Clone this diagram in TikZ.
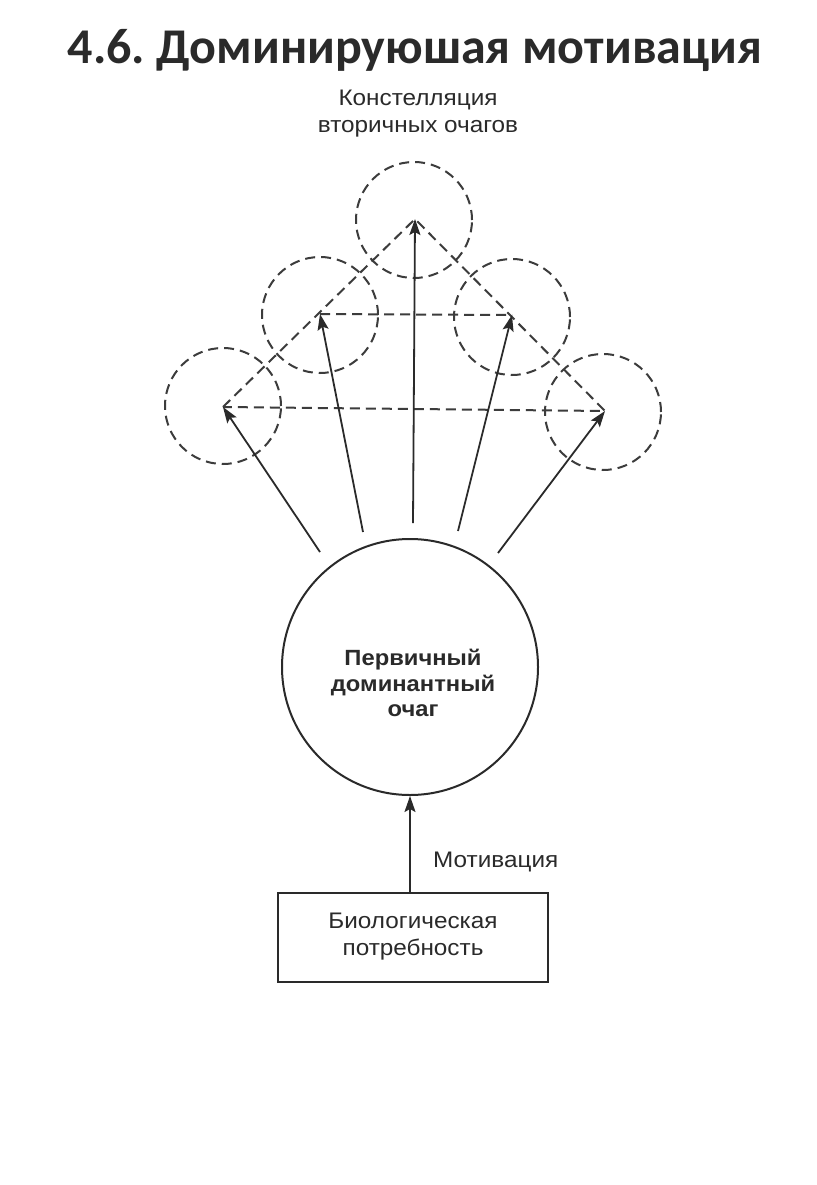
\documentclass[tikz,border=0pt]{standalone}
\usepackage{fontspec}
\setmainfont{Liberation Sans}[FakeStretch=1.08]
\newfontfamily\titlefont{Carlito}
\usetikzlibrary{arrows.meta}
\definecolor{ink}{HTML}{2A2A2A}
\definecolor{dashink}{HTML}{3C3C3C}
\tikzset{
  focus/.style={circle, draw=dashink, line width=2pt, dash pattern=on 10pt off 6pt, minimum size=116pt, inner sep=0pt},
  conline/.style={draw=dashink, line width=2pt, dash pattern=on 10pt off 6pt},
  arr/.style={draw=ink, line width=1.8pt, -{Stealth[length=16pt,width=11pt,inset=3pt]}},
  txt/.style={font=\fontsize{22.5}{27}\selectfont, text=ink, align=center, inner sep=0pt},
  boldtxt/.style={font=\bfseries\fontsize{22}{25.5}\selectfont, text=ink, align=center, inner sep=0pt},
}
\frenchspacing
\begin{document}
\begin{tikzpicture}[x=1pt,y=-1pt]
\useasboundingbox (0,0) rectangle (816,1185);
\fill[white] (0,0) rectangle (816,1185);
% title
\node[anchor=base, inner sep=0pt, text=ink, font=\titlefont\bfseries\fontsize{50}{60}\selectfont] (title) at (415,64) {4.6. Доминируюшая мотивация};
% header
\node[txt] (hdr) at (418,114) {Констелляция\\вторичных очагов};
% secondary foci
\coordinate (T) at (415,219);
\coordinate (UL) at (320,314);
\coordinate (UR) at (512,315);
\coordinate (LL) at (223,407);
\coordinate (LR) at (605,411);
\node[focus] (cT) at (414,220) {};
\node[focus] (cUL) at (320,315) {};
\node[focus] (cUR) at (512,317) {};
\node[focus] (cLL) at (223,406) {};
\node[focus] (cLR) at (603,412) {};
% constellation lines
\draw[conline] (LL) -- (T) -- (LR) -- cycle;
\draw[conline] (UL) -- (UR);
% primary focus
\node[circle, draw=ink, line width=2pt, minimum size=256pt, inner sep=0pt] (main) at (410,667) {};
\node[boldtxt] (maintext) at (413,683) {Первичный\\доминантный\\очаг};
% arrow starts
\coordinate (s1) at (320,552);
\coordinate (s2) at (363,532);
\coordinate (s3) at (413,523);
\coordinate (s4) at (458,531);
\coordinate (s5) at (498,553);
\draw[arr] (s1) -- (LL);
\draw[arr] (s2) -- (UL);
\draw[arr] (s3) -- (T);
\draw[arr] (s4) -- (UR);
\draw[arr] (s5) -- (LR);
% need box
\node[draw=ink, line width=2pt, minimum width=270pt, minimum height=89pt, inner sep=0pt, txt] (box) at (413,937) {Биологическая\\потребность};
\draw[arr] (main.south |- box.north) -- (main.south);
\node[txt, anchor=west] (mot) at (433,862) {Мотивация};
\end{tikzpicture}
\end{document}
